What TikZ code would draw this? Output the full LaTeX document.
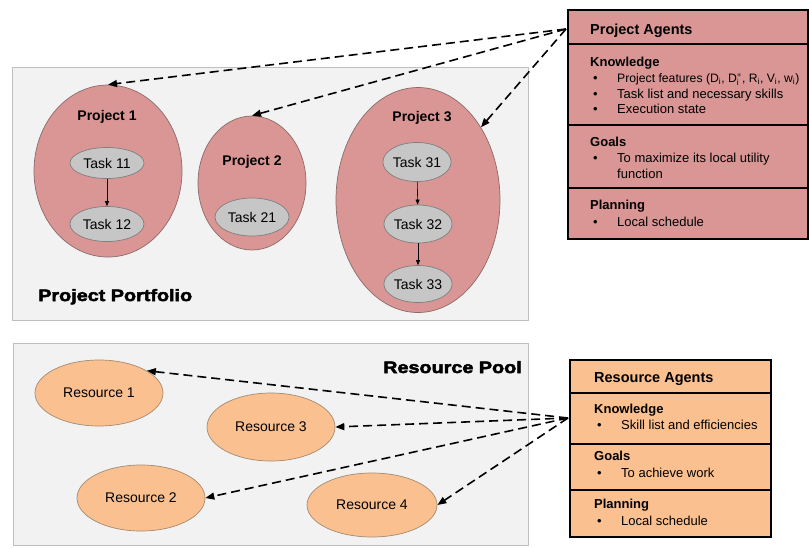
\documentclass[tikz,border=0pt]{standalone}
\usepackage{fontspec}
\setmainfont{Liberation Sans}
\newfontfamily\heavyfont{Liberation Sans}[FakeStretch=1.2, BoldFeatures={FakeBold=3}]
\usetikzlibrary{arrows.meta,shapes.geometric}
\definecolor{panelfill}{HTML}{F2F2F2}
\definecolor{panelline}{HTML}{BFBFBF}
\definecolor{projfill}{HTML}{D99694}
\definecolor{projline}{HTML}{8C6A6A}
\definecolor{taskfill}{HTML}{C6C6C6}
\definecolor{taskline}{HTML}{7F7F7F}
\definecolor{resfill}{HTML}{FAC090}
\definecolor{resline}{HTML}{A58A6E}
\tikzset{
  panel/.style={draw=panelline, fill=panelfill, line width=0.8pt},
  projell/.style={ellipse, draw=projline, fill=projfill, line width=0.7pt, inner sep=0pt},
  taskell/.style={ellipse, draw=taskline, fill=taskfill, line width=0.7pt, inner sep=0pt, font=\fontsize{14}{16}\selectfont},
  resell/.style={ellipse, draw=resline, fill=resfill, line width=0.7pt, inner sep=0pt, font=\fontsize{14}{16}\selectfont},
  projlabel/.style={font=\bfseries\fontsize{14}{16}\selectfont, inner sep=0pt},
  bigtitle/.style={font=\heavyfont\bfseries\fontsize{16.5}{18}\selectfont, inner sep=0pt},
  agentbox/.style={draw=black, line width=1.2pt, inner sep=0pt},
  agtitle/.style={font=\bfseries\fontsize{14.5}{16}\selectfont, anchor=base west, inner sep=0pt},
  aghead/.style={font=\bfseries\fontsize{13}{15}\selectfont, anchor=base west, inner sep=0pt},
  agtext/.style={font=\fontsize{13}{15}\selectfont, anchor=base west, inner sep=0pt},
  dasharrow/.style={line width=1.6pt, dash pattern=on 9pt off 5pt, -{Triangle[length=9pt,width=7pt]}},
  taskarrow/.style={line width=0.6pt, -{Triangle[length=5pt,width=4pt]}},
}
\begin{document}
\begin{tikzpicture}[x=1pt,y=-1pt]
\useasboundingbox (0,0) rectangle (809,547);
% panels
\draw[panel] (12,67) rectangle (528,320);
\draw[panel] (13,343) rectangle (528,545);
\node[bigtitle, anchor=base west] (pptitle) at (38,301) {Project Portfolio};
\node[bigtitle, anchor=base east] (rptitle) at (522,373) {Resource Pool};
% projects
\node[projell, minimum width=148pt, minimum height=172pt] (p1) at (108,171) {};
\node[projell, minimum width=108pt, minimum height=134pt] (p2) at (252,183) {};
\node[projell, minimum width=164pt, minimum height=225pt] (p3) at (418,200) {};
\node[projlabel] (p1l) at (107,117) {Project 1};
\node[projlabel] (p2l) at (252,162) {Project 2};
\node[projlabel] (p3l) at (422,118) {Project 3};
% tasks
\node[taskell, minimum width=74pt, minimum height=31pt] (t11) at (107,163) {Task 11};
\node[taskell, minimum width=74pt, minimum height=35pt] (t12) at (107,224) {Task 12};
\node[taskell, minimum width=74pt, minimum height=38pt] (t21) at (252,217) {Task 21};
\node[taskell, minimum width=65pt, minimum height=39pt] (t31) at (417,162) {Task 31};
\node[taskell, minimum width=65pt, minimum height=38pt] (t32) at (418,224) {Task 32};
\node[taskell, minimum width=65pt, minimum height=37pt] (t33) at (418,284) {Task 33};
\draw[taskarrow] (t11) -- (t12);
\draw[taskarrow] (t31) -- (t32);
\draw[taskarrow] (t32) -- (t33);
% resources
\node[resell, minimum width=128pt, minimum height=66pt] (r1) at (99,393) {Resource 1};
\node[resell, minimum width=128pt, minimum height=66pt] (r2) at (141,498) {Resource 2};
\node[resell, minimum width=128pt, minimum height=68pt] (r3) at (271,427) {Resource 3};
\node[resell, minimum width=130pt, minimum height=64pt] (r4) at (372,505) {Resource 4};
% arrow sources
\coordinate (pasrc) at (566,29);
\coordinate (rasrc) at (568,418);
\draw[dasharrow] (pasrc) -- (p1.north);
\draw[dasharrow] (pasrc) -- (p2.north);
\draw[dasharrow] (pasrc) -- (p3);
\draw[dasharrow] (rasrc) -- (r1.25);
\draw[dasharrow] (rasrc) -- (r3.east);
\draw[dasharrow] (rasrc) -- (r2.east);
\draw[dasharrow] (rasrc) -- (r4.east);
% project agents
\node[agentbox, fill=projfill, minimum width=240pt, minimum height=229pt] (pag) at (688,124.5) {};
\draw[line width=1.2pt] (pag.west |- 0,44) -- (pag.east |- 0,44);
\draw[line width=1.2pt] (pag.west |- 0,125) -- (pag.east |- 0,125);
\draw[line width=1.2pt] (pag.west |- 0,188) -- (pag.east |- 0,188);
\node[agtitle] (pat) at (590,34) {Project Agents};
\node[aghead] (pak) at (590,66) {Knowledge};
\node[agtext] (pab1) at (593,82) {•};
\node[agtext, font=\fontsize{12.2}{14}\selectfont] (pak1) at (617,82) {Project features ($\mathrm{D}_{\mathrm{i}}$, $\mathrm{D}_{\mathrm{i}}^{*}$, $\mathrm{R}_{\mathrm{i}}$, $\mathrm{V}_{\mathrm{i}}$, $\mathrm{w}_{\mathrm{i}}$)};
\node[agtext] (pab2) at (593,98) {•};
\node[agtext] (pak2) at (617,98) {Task list and necessary skills};
\node[agtext] (pab3) at (593,113) {•};
\node[agtext] (pak3) at (617,113) {Execution state};
\node[aghead] (pag1) at (590,146) {Goals};
\node[agtext] (pab4) at (593,162) {•};
\node[agtext] (pag2) at (617,162) {To maximize its local utility};
\node[agtext] (pag3) at (617,178) {function};
\node[aghead] (pap) at (590,209) {Planning};
\node[agtext] (pab5) at (593,226) {•};
\node[agtext] (pap1) at (617,226) {Local schedule};
% resource agents
\node[agentbox, fill=resfill, minimum width=201pt, minimum height=177pt] (rag) at (670.5,448.5) {};
\draw[line width=1.2pt] (rag.west |- 0,393) -- (rag.east |- 0,393);
\draw[line width=1.2pt] (rag.west |- 0,444) -- (rag.east |- 0,444);
\draw[line width=1.2pt] (rag.west |- 0,490) -- (rag.east |- 0,490);
\node[agtitle] (rat) at (594,382) {Resource Agents};
\node[aghead] (rak) at (594,413) {Knowledge};
\node[agtext] (rab1) at (597,429) {•};
\node[agtext] (rak1) at (621,429) {Skill list and efficiencies};
\node[aghead] (rag1) at (594,460) {Goals};
\node[agtext] (rab2) at (597,477) {•};
\node[agtext] (rag2) at (621,477) {To achieve work};
\node[aghead] (rap) at (594,508) {Planning};
\node[agtext] (rab3) at (597,525) {•};
\node[agtext] (rap1) at (621,525) {Local schedule};
\end{tikzpicture}
\end{document}
